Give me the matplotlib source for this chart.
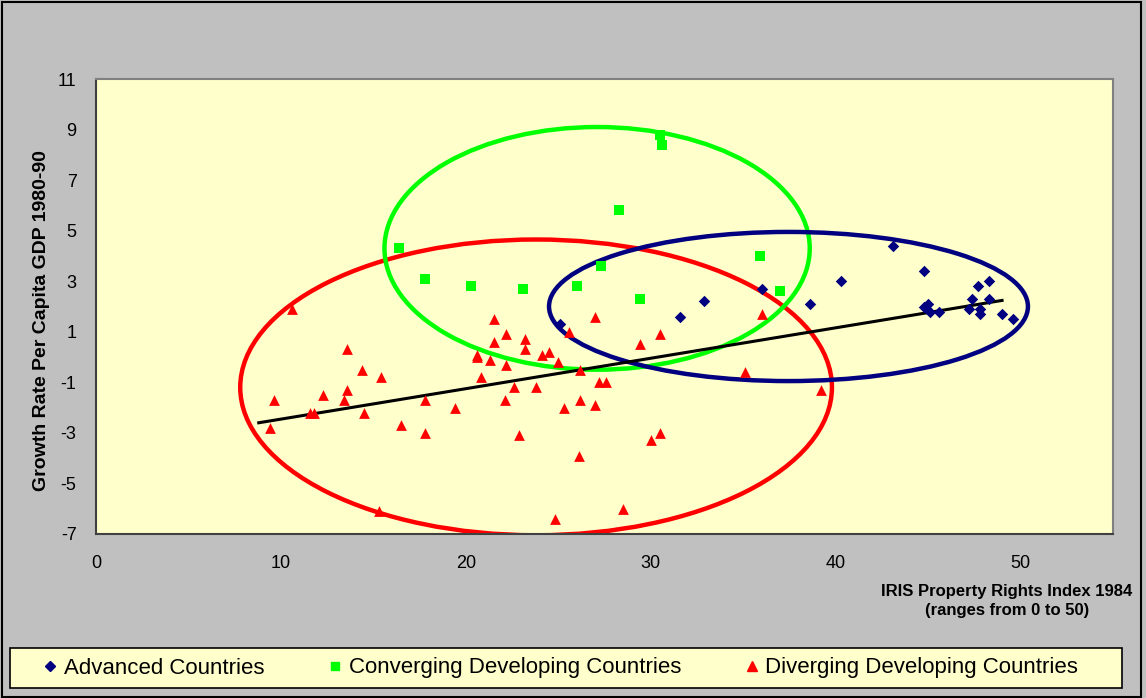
import matplotlib
matplotlib.use("Agg")
import matplotlib.pyplot as plt
from matplotlib.patches import Ellipse, Rectangle
from matplotlib.lines import Line2D

plt.rcParams['font.family'] = ['Liberation Sans', 'DejaVu Sans']
plt.rcParams['axes.unicode_minus'] = False

# Advanced countries (navy diamonds)
adv_x = [25.1, 31.6, 32.9, 36.0, 38.6, 40.3, 43.1, 44.8, 44.8, 45.0, 45.1, 45.6,
         47.2, 47.4, 47.7, 47.8, 47.8, 48.3, 48.3, 49.0, 49.6]
adv_y = [1.3, 1.6, 2.2, 2.7, 2.1, 3.0, 4.4, 3.4, 2.0, 2.1, 1.8, 1.8,
         1.9, 2.3, 2.8, 1.9, 1.7, 3.0, 2.3, 1.7, 1.5]

# Converging developing countries (green squares)
conv_x = [16.4, 17.8, 20.3, 23.1, 26.0, 27.3, 28.3, 29.4, 30.5, 30.6, 35.9, 37.0]
conv_y = [4.3, 3.1, 2.8, 2.7, 2.8, 3.6, 5.8, 2.3, 8.8, 8.4, 4.0, 2.6]

# Diverging developing countries (red triangles)
div_x = [10.6, 13.6, 14.4, 15.4, 9.6, 12.3, 13.6, 13.4, 11.6, 11.8, 14.5, 9.4,
         17.8, 16.5, 17.8, 21.5, 27.0, 22.2, 21.5, 23.2, 23.2, 20.6, 20.6, 21.3,
         22.2, 24.1, 24.5, 25.0, 25.6, 26.2, 20.8, 22.6, 23.8, 27.2, 27.6, 22.1,
         19.4, 25.3, 26.2, 27.0, 22.9, 26.1, 36.0, 30.5, 29.4, 35.1, 39.2, 30.5,
         30.0, 15.3, 24.8, 28.5]
div_y = [1.9, 0.3, -0.5, -0.8, -1.7, -1.5, -1.3, -1.7, -2.2, -2.2, -2.2, -2.8,
         -1.7, -2.7, -3.0, 1.5, 1.6, 0.9, 0.6, 0.7, 0.3, 0.1, 0.0, -0.1,
         -0.3, 0.1, 0.2, -0.2, 1.0, -0.5, -0.8, -1.2, -1.2, -1.0, -1.0, -1.7,
         -2.0, -2.0, -1.7, -1.9, -3.1, -3.9, 1.7, 0.9, 0.5, -0.6, -1.3, -3.0,
         -3.3, -6.1, -6.4, -6.0]

# linear trend line end points
trend_x = [8.8, 49.0]
trend_y = [-2.6, 2.24]

# hand drawn group ellipses: centre x, centre y, width, height
ell_red = [23.8, -1.2, 32.0, 11.7]
ell_green = [27.1, 4.3, 23.0, 9.6]
ell_blue = [37.45, 2.0, 25.9, 5.9]

x_ticks = [0, 10, 20, 30, 40, 50]
y_ticks = [-7, -5, -3, -1, 1, 3, 5, 7, 9, 11]

NAVY = '#000080'
GREEN = '#00FF00'
RED = '#FF0000'
PANEL = '#FFFFCC'

fig = plt.figure(figsize=(11.46, 6.98), dpi=100, facecolor='#C0C0C0')
ax = fig.add_axes([96 / 1146, 1 - 534 / 698, 1017 / 1146, 455 / 698])
ax.set_facecolor(PANEL)

for cx, cy, w, h, col in [ell_red + [RED], ell_green + [GREEN], ell_blue + [NAVY]]:
    ax.add_patch(Ellipse((cx, cy), w, h, fill=False, edgecolor=col, lw=3.2, zorder=2))

ax.plot(trend_x, trend_y, color='black', lw=2.2, zorder=3)

ax.scatter(div_x, div_y, marker='^', s=60, color=RED, zorder=4, linewidths=0)
ax.scatter(conv_x, conv_y, marker='s', s=55, color=GREEN, zorder=4, linewidths=0)
ax.scatter(adv_x, adv_y, marker='D', s=34, color=NAVY, zorder=5, linewidths=0)

ax.set_xlim(0, 55)
ax.set_ylim(-7, 11)
ax.set_xticks(x_ticks)
ax.set_yticks(y_ticks)
ax.tick_params(length=0, labelsize=13)
ax.tick_params(axis='x', pad=15)
ax.tick_params(axis='y', pad=14)
for s in ['left', 'bottom']:
    ax.spines[s].set_color('#404040')
    ax.spines[s].set_linewidth(1.5)
for s in ['right', 'top']:
    ax.spines[s].set_color('#808080')
    ax.spines[s].set_linewidth(1.5)

fig.text(42 / 1146, 1 - 321 / 698, 'Growth Rate Per Capita GDP 1980-90', rotation=90,
         ha='center', va='center', fontsize=14, fontweight='bold')
fig.text(1007 / 1146, 1 - 601 / 698, 'IRIS Property Rights Index 1984\n(ranges from 0 to 50)',
         ha='center', va='center', fontsize=12, fontweight='bold', linespacing=1.35)

# legend box
fig.add_artist(Rectangle((10 / 1146, 1 - 688 / 698), 1112 / 1146, 40 / 698,
                         transform=fig.transFigure, facecolor=PANEL,
                         edgecolor='black', lw=1.2))
handles = [
    Line2D([], [], ls='none', marker='D', color=NAVY, markersize=5),
    Line2D([], [], ls='none', marker='s', color=GREEN, markersize=6),
    Line2D([], [], ls='none', marker='^', color=RED, markersize=7),
]
labels = ['Advanced Countries', 'Converging Developing Countries', 'Diverging Developing Countries']
fig.legend(handles, labels, loc='center', ncol=3,
           bbox_to_anchor=(561 / 1146, 1 - 668 / 698),
           fontsize=16, frameon=False, handlelength=0.6, handletextpad=0.3,
           columnspacing=2.9, borderaxespad=0)

fig.add_artist(Rectangle((0.002, 0.002), 0.994, 0.995, transform=fig.transFigure,
                         fill=False, edgecolor='black', lw=1.5))

fig.savefig('out.png', dpi=100, facecolor=fig.get_facecolor())
